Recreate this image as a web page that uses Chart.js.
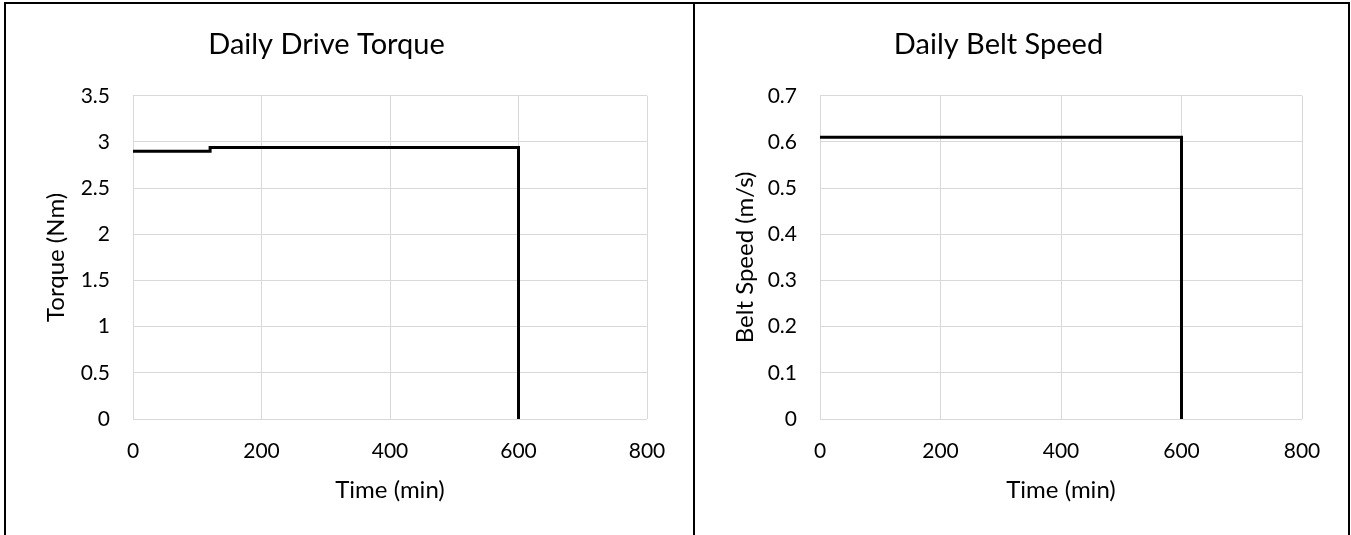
<!DOCTYPE html>
<html>
<head>
<meta charset="utf-8">
<script src="https://cdn.jsdelivr.net/npm/chart.js@4.4.0/dist/chart.umd.min.js"></script>
<style>
  body { margin: 0; background: #fff; overflow: hidden; }
  .box { position: absolute; top: 2px; height: 560px; border: 2px solid #000; }
  #box1 { left: 4px; width: 687px; }
  #box2 { left: 693px; width: 653px; }
  canvas { display: block; }
</style>
</head>
<body>
<div class="box" id="box1"><canvas id="torqueChart" width="687" height="531"></canvas></div>
<div class="box" id="box2"><canvas id="speedChart" width="653" height="531"></canvas></div>
<script>
const torqueTime = [0, 120, 120, 600, 600];
const torqueValues = [2.9, 2.9, 2.94, 2.94, 0];
const speedTime = [0, 600, 600];
const speedValues = [0.61, 0.61, 0];
const timeTicks = [0, 200, 400, 600, 800];

const FONT = 'Lato, "Noto Sans", sans-serif';
Chart.defaults.font.family = FONT;
Chart.defaults.color = '#000';

// Excel-style general number format: no trailing zeros
const plainNum = v => String(Number(Number(v).toFixed(2)));

function makeChart(canvas, title, yLabel, xs, ys, yMax, yStep, yWidth) {
  return new Chart(canvas, {
    type: 'scatter',
    data: {
      datasets: [{
        data: xs.map((x, i) => ({ x: x, y: ys[i] })),
        showLine: true,
        borderColor: '#000',
        borderWidth: 3,
        pointRadius: 0,
        tension: 0
      }]
    },
    options: {
      responsive: false,
      animation: false,
      layout: { padding: { left: 0, top: 0, right: 46, bottom: 0 } },
      plugins: {
        legend: { display: false },
        tooltip: { enabled: false },
        title: {
          display: true,
          text: title,
          color: '#000',
          font: { size: 29, weight: 'normal' },
          padding: { top: 23, bottom: 34 }
        }
      },
      scales: {
        x: {
          type: 'linear',
          min: timeTicks[0],
          max: timeTicks[timeTicks.length - 1],
          afterBuildTicks: s => { s.ticks = timeTicks.map(v => ({ value: v })); },
          grid: { color: '#d9d9d9', drawTicks: false },
          border: { display: false },
          ticks: { padding: 20, font: { size: 21 }, callback: plainNum },
          title: {
            display: true,
            text: 'Time (min)',
            font: { size: 24 },
            padding: { top: 0, bottom: 30 }
          },
          afterFit: s => { s.height = 116; }
        },
        y: {
          min: 0,
          max: yMax,
          grid: { color: '#d9d9d9', drawTicks: false },
          border: { display: false },
          ticks: { stepSize: yStep, padding: 23, font: { size: 21 }, callback: plainNum },
          title: {
            display: true,
            text: yLabel,
            font: { size: 24 },
            padding: { top: 36, bottom: 0 }
          },
          afterFit: s => { s.width = yWidth; }
        }
      }
    }
  });
}

makeChart(document.getElementById('torqueChart'), 'Daily Drive Torque', 'Torque (Nm)',
  torqueTime, torqueValues, 3.5, 0.5, 127);
makeChart(document.getElementById('speedChart'), 'Daily Belt Speed', 'Belt Speed (m/s)',
  speedTime, speedValues, 0.7, 0.1, 125);
</script>
</body>
</html>
